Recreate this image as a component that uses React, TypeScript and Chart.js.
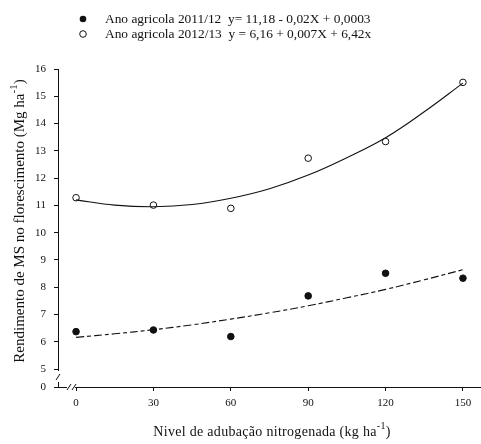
import React, { useEffect, useRef } from "react";
import { Chart, registerables } from "chart.js";

Chart.register(...registerables);

// ---- data ----
const nitrogenLevels = [0, 30, 60, 90, 120, 150];
const yield2011 = [6.37, 6.43, 6.19, 7.68, 8.51, 8.33]; // filled circles
const yield2012 = [11.28, 11.01, 10.89, 12.73, 13.34, 15.51]; // open circles

// fitted curves
const fitX = [0, 15, 30, 45, 60, 75, 90, 105, 120, 135, 150];
const fitSolid = [11.2, 11.01, 10.95, 11.03, 11.26, 11.61, 12.11, 12.75, 13.48, 14.43, 15.48];
const fitDashed = [6.16, 6.29, 6.44, 6.62, 6.83, 7.06, 7.32, 7.61, 7.92, 8.27, 8.64];

const xTicks = [0, 30, 60, 90, 120, 150];
const yTicks = [5, 6, 7, 8, 9, 10, 11, 12, 13, 14, 15, 16];
const yBreakFloor = 4.34; // value shown as "0" below the axis break
const xRange = [-7, 157];

const legendLabels = [
  "Ano agricola 2011/12  y= 11,18 - 0,02X + 0,0003",
  "Ano agricola 2012/13  y = 6,16 + 0,007X + 6,42x",
];
const xTitle = ["Nivel de adubação nitrogenada (kg ha", "-1", ")"];
const yTitle = ["Rendimento de MS no florescimento (Mg ha", "-1", ")"];

const SERIF = "'Liberation Serif', 'Times New Roman', serif";
const INK = "#111";

function drawSupText(
  ctx: CanvasRenderingContext2D,
  parts: string[],
  size: number,
  spacing: number
) {
  const main = `${size}px ${SERIF}`;
  const sup = `${Math.round(size * 0.7)}px ${SERIF}`;
  (ctx as any).letterSpacing = `${spacing}px`;
  ctx.font = main;
  const w0 = ctx.measureText(parts[0]).width;
  const w2 = ctx.measureText(parts[2]).width;
  ctx.font = sup;
  const w1 = ctx.measureText(parts[1]).width;
  const total = w0 + w1 + w2;
  let x = -total / 2;
  ctx.textBaseline = "middle";
  ctx.textAlign = "left";
  ctx.font = main;
  ctx.fillText(parts[0], x, 0);
  x += w0;
  ctx.font = sup;
  ctx.fillText(parts[1], x, -size * 0.38);
  x += w1;
  ctx.font = main;
  ctx.fillText(parts[2], x, 0);
  (ctx as any).letterSpacing = "0px";
}

const decorPlugin = {
  id: "decor",
  afterDraw(chart: any) {
    const ctx: CanvasRenderingContext2D = chart.ctx;
    const xs = chart.scales.x;
    const ys = chart.scales.y;
    const ca = chart.chartArea;
    ctx.save();

    // axis breaks
    const axisX = ca.left;
    const axisY = ca.bottom;
    const y5 = ys.getPixelForValue(5);
    ctx.fillStyle = "#fff";
    ctx.fillRect(axisX - 1.5, y5 + 2, 3, axisY - y5 - 7);
    const x0 = xs.getPixelForValue(0);
    ctx.fillRect(axisX + 9, axisY - 1.5, x0 - axisX - 10, 3);
    ctx.strokeStyle = INK;
    ctx.lineWidth = 1;
    ctx.beginPath();
    const my = (y5 + axisY) / 2 - 1;
    ctx.moveTo(axisX - 2, my + 3);
    ctx.lineTo(axisX + 2, my - 3);
    for (const dx of [11, 16]) {
      ctx.moveTo(axisX + dx - 2, axisY + 3);
      ctx.lineTo(axisX + dx + 2, axisY - 3);
    }
    ctx.stroke();

    // legend
    ctx.fillStyle = INK;
    ctx.font = `13.4px ${SERIF}`;
    ctx.textBaseline = "middle";
    ctx.textAlign = "left";
    const rows = [19, 34];
    rows.forEach((ry, i) => {
      ctx.beginPath();
      ctx.arc(83, ry, 3.3, 0, Math.PI * 2);
      if (i === 0) {
        ctx.fillStyle = INK;
        ctx.fill();
      } else {
        ctx.fillStyle = "#fff";
        ctx.fill();
        ctx.strokeStyle = INK;
        ctx.stroke();
      }
      ctx.fillStyle = INK;
      ctx.fillText(legendLabels[i], 105, ry);
    });

    // axis titles
    ctx.fillStyle = INK;
    ctx.save();
    ctx.translate(272, 432);
    drawSupText(ctx, xTitle, 14, 0.3);
    ctx.restore();
    ctx.save();
    ctx.translate(20, 221);
    ctx.rotate(-Math.PI / 2);
    drawSupText(ctx, yTitle, 15, 0);
    ctx.restore();

    ctx.restore();
  },
};

export default function App() {
  const ref = useRef<HTMLCanvasElement>(null);
  useEffect(() => {
    if (!ref.current) return;
    const chart = new Chart(ref.current, {
      type: "scatter",
      data: {
        datasets: [
          {
            label: "fit 2012/13",
            data: fitX.map((x, i) => ({ x, y: fitSolid[i] })),
            showLine: true,
            borderColor: INK,
            borderWidth: 1.1,
            pointRadius: 0,
            tension: 0.4,
          },
          {
            label: "fit 2011/12",
            data: fitX.map((x, i) => ({ x, y: fitDashed[i] })),
            showLine: true,
            borderColor: INK,
            borderWidth: 1.1,
            borderDash: [8, 3, 4, 3],
            pointRadius: 0,
            tension: 0.4,
          },
          {
            label: "Ano agricola 2011/12",
            data: nitrogenLevels.map((x, i) => ({ x, y: yield2011[i] })),
            backgroundColor: INK,
            borderColor: INK,
            borderWidth: 1,
            pointRadius: 3.3,
          },
          {
            label: "Ano agricola 2012/13",
            data: nitrogenLevels.map((x, i) => ({ x, y: yield2012[i] })),
            backgroundColor: "#fff",
            borderColor: INK,
            borderWidth: 1,
            pointRadius: 3.3,
          },
        ],
      },
      options: {
        animation: false,
        responsive: false,
        devicePixelRatio: 1,
        layout: { autoPadding: false, padding: { top: 69, left: 0, right: 0, bottom: 0 } },
        plugins: { legend: { display: false }, tooltip: { enabled: false } },
        scales: {
          x: {
            type: "linear",
            min: xRange[0],
            max: xRange[1],
            afterBuildTicks: (s: any) => {
              s.ticks = xTicks.map((v) => ({ value: v }));
            },
            afterFit: (s: any) => {
              s.height = 57;
              s.paddingLeft = 0;
              s.paddingRight = 0;
            },
            grid: {
              display: true,
              drawOnChartArea: false,
              drawTicks: true,
              tickLength: 4,
              color: INK,
            },
            border: { display: true, color: INK, width: 1 },
            ticks: {
              color: INK,
              font: { family: SERIF, size: 11 },
              padding: 6,
              maxRotation: 0,
              autoSkip: false,
            },
          },
          y: {
            type: "linear",
            min: yBreakFloor,
            max: 16,
            afterBuildTicks: (s: any) => {
              s.ticks = [yBreakFloor, ...yTicks].map((v) => ({ value: v }));
            },
            afterFit: (s: any) => {
              s.width = 58;
              s.paddingTop = 0;
              s.paddingBottom = 0;
            },
            grid: {
              display: true,
              drawOnChartArea: false,
              drawTicks: true,
              tickLength: 4,
              color: INK,
            },
            border: { display: true, color: INK, width: 1 },
            ticks: {
              color: INK,
              font: { family: SERIF, size: 11 },
              padding: 8,
              autoSkip: false,
              callback: (v: any) => (v < 5 ? "0" : String(v)),
            },
          },
        },
      },
      plugins: [decorPlugin],
    });
    return () => chart.destroy();
  }, []);
  return (
    <div style={{ position: "fixed", left: 0, top: 0, width: 481, height: 444, background: "#fff" }}>
      <canvas ref={ref} width={481} height={444} />
    </div>
  );
}
